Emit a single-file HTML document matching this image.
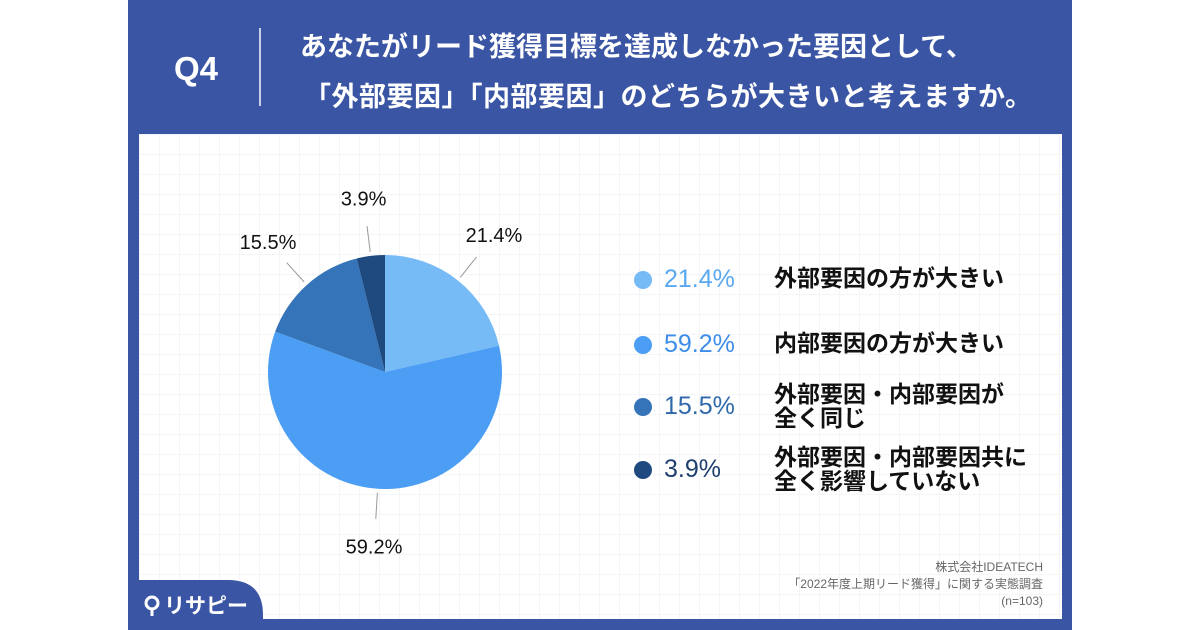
<!DOCTYPE html>
<html><head><meta charset="utf-8">
<style>
body{margin:0;width:1200px;height:630px;background:#fff;overflow:hidden;font-family:"Liberation Sans","Noto Sans CJK JP",sans-serif;}
#panel{position:absolute;left:128px;top:0;width:944px;height:630px;background:#3a55a3;}
#card{position:absolute;left:139px;top:134px;width:923px;height:485px;background:#fff;
background-image:linear-gradient(#f3f5f9 1px,transparent 1px),linear-gradient(90deg,#f3f5f9 1px,transparent 1px);background-size:20px 20px;}
.t{position:absolute;white-space:nowrap;}
</style></head><body>
<div id="panel"></div>
<div id="card"></div>
<div class="t" style="left:174px;top:50px;color:#fff;font-size:33px;font-weight:bold;">Q4</div>
<div style="position:absolute;left:259px;top:28px;width:2px;height:78px;background:#c8d0e8;"></div>
<div class="t" style="left:300px;top:22px;color:#fff;font-size:27px;font-weight:bold;line-height:50px;">
<div style="padding-left:0px">あなたがリード獲得目標を達成しなかった要因として、</div>
<div style="margin-left:4px;letter-spacing:0.5px">「外部要因」「内部要因」のどちらが大きいと考えますか。</div></div>
<svg style="position:absolute;left:0;top:0" width="1200" height="630">
<path d="M128 580 H228 Q263 580 263 615 V630 H128 Z" fill="#3a55a3"/>
<circle cx="152" cy="603" r="6" fill="none" stroke="#fff" stroke-width="3"/>
<line x1="152" y1="609" x2="152" y2="616" stroke="#fff" stroke-width="3"/>
</svg>
<div class="t" style="left:164px;top:590px;color:#fff;font-size:21px;font-weight:bold;">リサピー</div>
<div class="t" style="right:157px;top:559px;color:#666;font-size:12px;text-align:right;line-height:17px;">株式会社IDEATECH<br>「2022年度上期リード獲得」に関する実態調査<br>(n=103)</div>
<svg id="pie" style="position:absolute;left:0;top:0" width="1200" height="630"></svg>
<div id="legend"></div>
<script>
const categories=["外部要因の方が大きい","内部要因の方が大きい","外部要因・内部要因が<br>全く同じ","外部要因・内部要因共に<br>全く影響していない"];
const values=[21.4,59.2,15.5,3.9];
const colors=["#76baf6","#4b9ef3","#3574b9","#1f4a80"];
const pctColors=["#5aa8f0","#3d8ee8","#2f68ab","#1f3f70"];
const cx=385,cy=372,R=117;
const svg=document.getElementById('pie');
const NS="http://www.w3.org/2000/svg";
const total=values.reduce((a,b)=>a+b,0);
function pt(a,r){return [cx+r*Math.sin(a),cy-r*Math.cos(a)];}
let acc=0;
values.forEach((v,i)=>{
 const a0=acc/total*2*Math.PI; acc+=v; const a1=acc/total*2*Math.PI;
 const p0=pt(a0,R),p1=pt(a1,R);
 const path=document.createElementNS(NS,'path');
 path.setAttribute('d',`M${cx} ${cy} L${p0[0]} ${p0[1]} A${R} ${R} 0 ${a1-a0>Math.PI?1:0} 1 ${p1[0]} ${p1[1]} Z`);
 path.setAttribute('fill',colors[i]);
 
 
 svg.appendChild(path);
 const am=(a0+a1)/2; const l0=pt(am,R+4),l1=pt(am,R+30),lt=pt(am,R+58);
 const ln=document.createElementNS(NS,'line');
 ln.setAttribute('x1',l0[0]);ln.setAttribute('y1',l0[1]);ln.setAttribute('x2',l1[0]);ln.setAttribute('y2',l1[1]);
 ln.setAttribute('stroke','#999');ln.setAttribute('stroke-width','1');
 
 
 svg.appendChild(ln);
 const tx=document.createElementNS(NS,'text');
 tx.setAttribute('x',lt[0]);tx.setAttribute('y',lt[1]+7);tx.setAttribute('text-anchor','middle');
 tx.setAttribute('font-size','20');tx.setAttribute('fill','#111');
 tx.textContent=v.toFixed(1)+'%';
 
 
 svg.appendChild(tx);
});
const rows=[280,345,407,470];
const lg=document.getElementById('legend');
values.forEach((v,i)=>{
 const d=document.createElement('div');
 d.style.cssText=`position:absolute;left:634px;top:${rows[i]-9}px;width:18px;height:18px;border-radius:50%;background:${colors[i]};`;
 
 
 lg.appendChild(d);
 const p=document.createElement('div');
 p.className='t';
 p.style.cssText=`left:664px;top:${rows[i]-15}px;font-size:25px;color:${pctColors[i]};`;
 p.textContent=v.toFixed(1)+'%';
 
 
 lg.appendChild(p);
 const l=document.createElement('div');
 l.className='t';
 const two=categories[i].includes('<br>');
 l.style.cssText=`left:774px;top:${rows[i]-(two?25:14)}px;font-size:23px;font-weight:bold;color:#111;line-height:24px;`;
 l.innerHTML=categories[i];
 
 
 lg.appendChild(l);
});
</script>
</body></html>
